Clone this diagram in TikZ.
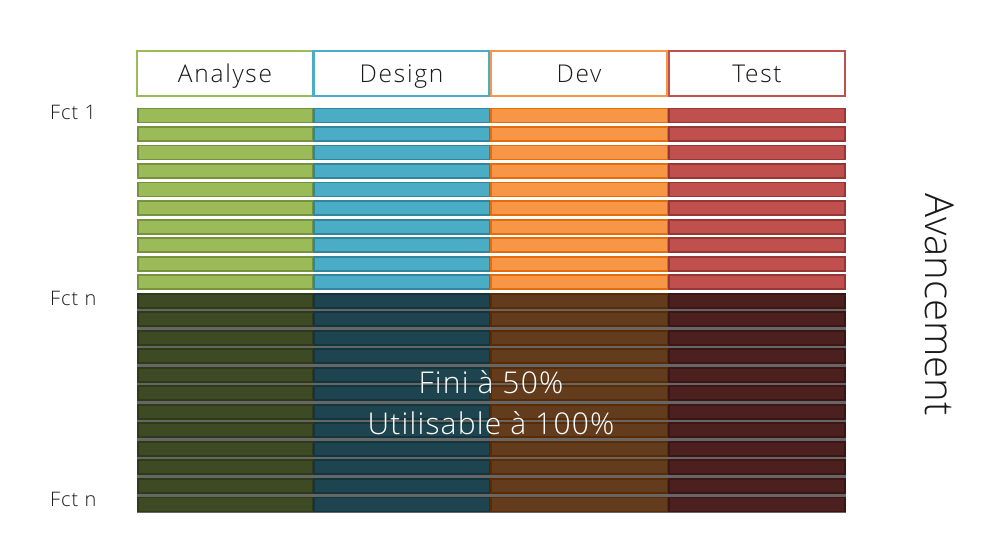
\documentclass[tikz,border=0pt]{standalone}
\usepackage{fontspec}
\IfFontExistsTF{Open Sans Light}{\setmainfont{Open Sans Light}}{\setmainfont{Open Sans}}
\definecolor{gfill}{HTML}{9BBB59}\definecolor{gline}{HTML}{76923C}
\definecolor{bfill}{HTML}{4BACC6}\definecolor{bline}{HTML}{31859C}
\definecolor{ofill}{HTML}{F79646}\definecolor{oline}{HTML}{E46C0A}
\definecolor{rfill}{HTML}{C0504D}\definecolor{rline}{HTML}{953735}
\definecolor{ink}{HTML}{1A1A1A}
\begin{document}
\begin{tikzpicture}[x=1pt,y=-1pt,
  headbox/.style={draw=#1, line width=2.4pt, fill=white, minimum width=176pt,
    minimum height=45pt, inner sep=0pt, text height=17.6pt, text depth=0pt,
    font=\fontsize{24.5}{24.5}\selectfont\addfontfeatures{LetterSpace=7}, text=ink},
  rowlabel/.style={anchor=base west, inner sep=0pt,
    font=\fontsize{20}{20}\selectfont\addfontfeatures{LetterSpace=5}, text=ink},
  statustext/.style={anchor=base, inner sep=0pt, text=white,
    font=\fontsize{30}{30}\selectfont\addfontfeatures{LetterSpace=4}},
  barseg/.style={line width=1.8pt},
  shade/.style={fill=black, opacity=0.6}]
\useasboundingbox (0,0) rectangle (1003,541);

% column headers
\node[headbox=gfill] (hA) at (225,73.5) {Analyse};
\node[headbox=bfill] (hD) at (401.5,73.5) {Design};
\node[headbox=ofill] (hV) at (579,73.5) {Dev};
\node[headbox=rfill] (hT) at (757,73.5) {Test};

% one bar per function, split across the four phases
\foreach \r in {0,...,21}{
  \pgfmathsetmacro{\yt}{108.5+\r*18.52}
  \pgfmathsetmacro{\yb}{\yt+14}
  \draw[barseg, draw=gline, fill=gfill] (138,\yt) rectangle (313,\yb);
  \draw[barseg, draw=bline, fill=bfill] (314,\yt) rectangle (490,\yb);
  \draw[barseg, draw=oline, fill=ofill] (491,\yt) rectangle (668,\yb);
  \draw[barseg, draw=rline, fill=rfill] (669,\yt) rectangle (845,\yb);
}

% darkened block: functions not yet finished
\fill[shade] (137,292.5) rectangle (846,512.5);

% function labels
\node[rowlabel] (f1) at (50,119.5) {Fct 1};
\node[rowlabel] (fn1) at (50,305.5) {Fct n};
\node[rowlabel] (fn2) at (50,506) {Fct n};

% status text over the darkened block
\node[statustext] (status1) at (491,393) {Fini à 50\%};
\node[statustext] (status2) at (491,434) {Utilisable à 100\%};

% progress axis label
\node[rotate=-90, text=ink, inner sep=0pt, text height=28.8pt, text depth=0pt,
  font=\fontsize{40}{40}\selectfont] (av) at (939.5,304.5) {Avancement};
\end{tikzpicture}
\end{document}
